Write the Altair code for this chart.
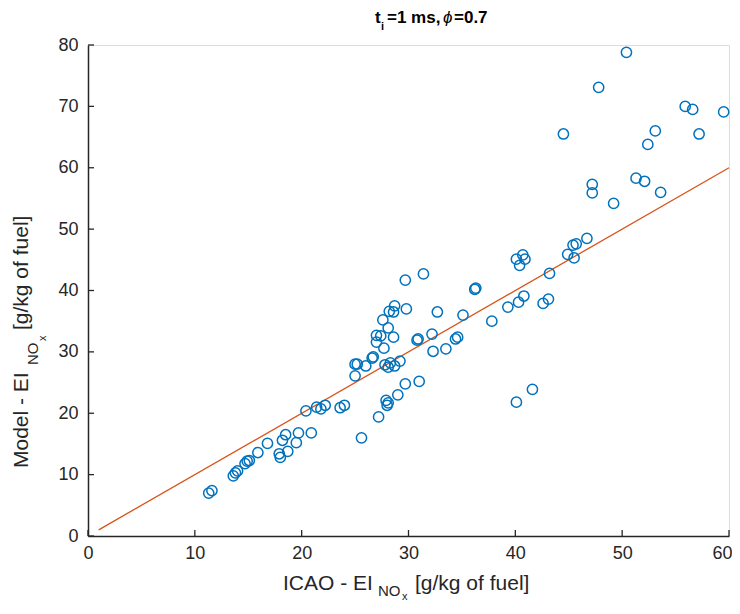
import altair as alt
import pandas as pd

# ---- data ----
icao = [11.3, 11.6, 13.6, 13.8, 14.0, 14.7, 14.9, 15.1, 15.9, 16.8,
        17.9, 18.0, 18.2, 18.5, 18.7, 19.5, 19.7, 20.9, 20.4, 21.4,
        21.8, 22.2, 23.6, 24.0, 25.6, 25.0, 25.0, 25.2, 26.0, 26.6,
        26.7, 27.0, 27.0, 27.4, 27.7, 27.8, 28.1, 28.3, 28.7, 29.2,
        27.6, 28.1, 28.2, 28.6, 28.7, 28.6, 29.8, 29.7, 31.4, 27.2,
        27.9, 28.0, 28.1, 29.0, 29.7, 31.0, 30.8, 30.9, 32.2, 32.3,
        32.7, 33.5, 34.4, 34.6, 35.1, 36.2, 36.3, 37.8, 39.3, 40.3,
        40.8, 42.6, 43.1, 43.2, 40.1, 40.4, 40.7, 40.9, 44.9, 45.4,
        45.7, 45.5, 46.7, 40.1, 41.6, 50.4, 47.8, 44.5, 55.9, 56.6,
        59.5, 53.1, 57.2, 52.4, 51.3, 52.1, 53.6, 47.2, 47.2, 49.2]
model = [7.0, 7.4, 9.8, 10.3, 10.6, 11.8, 12.2, 12.3, 13.6, 15.1,
         13.4, 12.8, 15.6, 16.5, 13.8, 15.2, 16.8, 16.8, 20.4, 21.0,
         20.7, 21.3, 20.9, 21.3, 16.0, 26.1, 28.0, 28.0, 27.7, 29.0,
         29.2, 31.6, 32.7, 32.6, 30.6, 27.9, 27.5, 28.2, 27.7, 28.5,
         35.2, 33.9, 36.6, 36.5, 37.5, 32.4, 37.0, 41.7, 42.7, 19.4,
         22.1, 21.3, 21.7, 23.0, 24.8, 25.2, 31.9, 32.1, 32.9, 30.1,
         36.5, 30.5, 32.1, 32.4, 36.0, 40.2, 40.4, 35.0, 37.3, 38.1,
         39.1, 37.9, 38.6, 42.8, 45.1, 44.1, 45.8, 45.1, 45.9, 47.4,
         47.6, 45.3, 48.5, 21.8, 23.9, 78.8, 73.1, 65.5, 70.0, 69.5,
         69.1, 66.0, 65.5, 63.8, 58.3, 57.8, 56.0, 57.3, 55.9, 54.2]
ref_x = [1, 60]
ref_y = [1, 60]
x_ticks = [0, 10, 20, 30, 40, 50, 60]
y_ticks = [0, 10, 20, 30, 40, 50, 60, 70, 80]

W, H = 641, 491
FONT = "Liberation Sans"
AX = "#262626"
BLUE = "#0072BD"
ORANGE = "#D95319"

xs = alt.Scale(domain=[0, 60], nice=False, zero=False)
ys = alt.Scale(domain=[0, 80], nice=False, zero=False)

pts_df = pd.DataFrame({"icao": icao, "model": model})
line_df = pd.DataFrame({"x": ref_x, "y": ref_y})

points = alt.Chart(pts_df).mark_point(
    shape="circle", filled=False, color=BLUE, size=105, strokeWidth=1.5, opacity=1
).encode(
    x=alt.X("icao:Q", scale=xs,
            axis=alt.Axis(values=x_ticks, title=None, grid=False, ticks=False,
                          labelFlush=False, labelOverlap=False, labelBound=False,
                          labelOffset={"condition": {"test": "datum.value == 60", "value": -7},
                                       "value": 0},
                          domainColor=AX, domainWidth=1.5, labelColor=AX,
                          labelFont=FONT, labelFontSize=18, labelPadding=8)),
    y=alt.Y("model:Q", scale=ys,
            axis=alt.Axis(values=y_ticks, title=None, grid=False, ticks=False,
                          labelFlush=False, labelOverlap=False,
                          domainColor=AX, domainWidth=1.5, labelColor=AX,
                          labelFont=FONT, labelFontSize=18, labelPadding=10)),
)

ref_line = alt.Chart(line_df).mark_line(color=ORANGE, strokeWidth=1.3).encode(
    x=alt.X("x:Q", scale=xs), y=alt.Y("y:Q", scale=ys)
)

xt = alt.Chart(pd.DataFrame({"v": x_ticks})).mark_rule(color=AX, strokeWidth=1.3).encode(
    x=alt.X("v:Q", scale=xs), y=alt.value(H), y2=alt.value(H - 6)
)
yt = alt.Chart(pd.DataFrame({"v": y_ticks})).mark_rule(color=AX, strokeWidth=1.3).encode(
    y=alt.Y("v:Q", scale=ys), x=alt.value(0), x2=alt.value(6)
)


def piece(text, x, y, size, weight="normal", style="normal", angle=0, color=AX):
    return alt.Chart(pd.DataFrame({"t": [text]})).mark_text(
        align="left", baseline="alphabetic", font=FONT, fontSize=size,
        fontWeight=weight, fontStyle=style, angle=angle, color=color
    ).encode(text="t:N", x=alt.value(x), y=alt.value(y))


# title  t_i=1 ms, phi=0.7
title_parts = [
    piece("t", 287, -22, 17, "bold", color="#000000"),
    piece("i", 293, -15, 11, "bold", color="#000000"),
    piece("=1 ms,", 299, -22, 17, "bold", color="#000000"),
    piece("\u03d5", 355, -22, 17, "normal", "italic", color="#000000"),
    piece("=0.7", 366, -22, 17, "bold", color="#000000"),
]

# x title  ICAO - EI_NOx [g/kg of fuel]
xtitle = [
    piece("ICAO - EI", 195, 545, 21),
    piece("NO", 290, 551, 15),
    piece("x", 314, 555, 11),
    piece("[g/kg of fuel]", 327, 545, 21),
]

# y title  Model - EI_NOx [g/kg of fuel]   (rotated)
ytitle = [
    piece("Model - EI", -60, 423, 21, angle=270),
    piece("NO", -50, 320, 15, angle=270),
    piece("x", -42, 296, 11, angle=270),
    piece("[g/kg of fuel]", -60, 285, 21, angle=270),
]

chart = alt.layer(ref_line, points, xt, yt, *title_parts, *xtitle, *ytitle).properties(
    width=W, height=H,
    autosize=alt.AutoSizeParams(type="none"),
    padding={"left": 80, "top": 37, "right": 3, "bottom": 68},
).configure_view(stroke=None).configure(background="white")

chart.save("out.html", embed_options={"renderer": "svg", "actions": False})
